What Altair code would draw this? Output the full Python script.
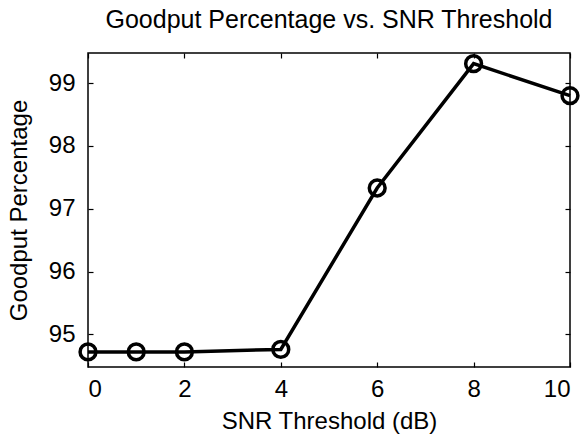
import altair as alt
import pandas as pd

snr_db = [0, 1, 2, 4, 6, 8, 10]
goodput = [94.72, 94.72, 94.72, 94.76, 97.33, 99.31, 98.80]
x_ticks = [0, 2, 4, 6, 8, 10]
y_ticks = [95, 96, 97, 98, 99]

df = pd.DataFrame({"snr": snr_db, "goodput": goodput})

FONT = "Liberation Sans"
FS = 24

xscale = alt.Scale(domain=[0, 10], nice=False, zero=False)
yscale = alt.Scale(domain=[94.48, 99.48], nice=False, zero=False)

base = alt.Chart(df)

main = base.mark_line(color="black", strokeWidth=3.5, point=alt.OverlayMarkDef(
    shape="circle", filled=False, size=250, strokeWidth=3.5, color="black", fill="white", fillOpacity=0)).encode(
    x=alt.X("snr:Q", scale=xscale,
            axis=alt.Axis(orient="bottom", values=x_ticks, title="SNR Threshold (dB)",
                          offset=-5, tickSize=5, tickColor="black", tickWidth=1.2,
                          domain=False, grid=False, labelPadding=10, titlePadding=8)),
    y=alt.Y("goodput:Q", scale=yscale,
            axis=alt.Axis(orient="left", values=y_ticks, title="Goodput Percentage",
                          offset=-5, tickSize=5, tickColor="black", tickWidth=1.2,
                          domain=False, grid=False, labelPadding=13, titlePadding=17)),
)

mirror = base.mark_point(opacity=0).encode(
    x=alt.X("snr:Q", scale=xscale,
            axis=alt.Axis(orient="top", values=x_ticks, title=None, labels=False,
                          offset=-5, tickSize=5, tickColor="black", tickWidth=1.2,
                          domain=False, grid=False)),
    y=alt.Y("goodput:Q", scale=yscale,
            axis=alt.Axis(orient="right", values=y_ticks, title=None, labels=False,
                          offset=-5, tickSize=5, tickColor="black", tickWidth=1.2,
                          domain=False, grid=False)),
)

chart = alt.layer(mirror, main).resolve_axis(x="independent", y="independent").properties(
    width=482,
    height=314,
    background="white",
    autosize=alt.AutoSizeParams(type="none"),
    padding={"left": 88, "top": 53, "right": 15, "bottom": 69},
    title=alt.TitleParams("Goodput Percentage vs. SNR Threshold", font=FONT, fontSize=25,
                          fontWeight="normal", color="black", offset=16, anchor="middle"),
).configure_axis(
    labelFont=FONT, labelFontSize=FS, labelColor="black",
    titleFont=FONT, titleFontSize=FS, titleColor="black", titleFontWeight="normal",
).configure_view(
    stroke="black", strokeWidth=1.5
)

chart.save("out.html", embed_options={"renderer": "svg", "actions": False})
